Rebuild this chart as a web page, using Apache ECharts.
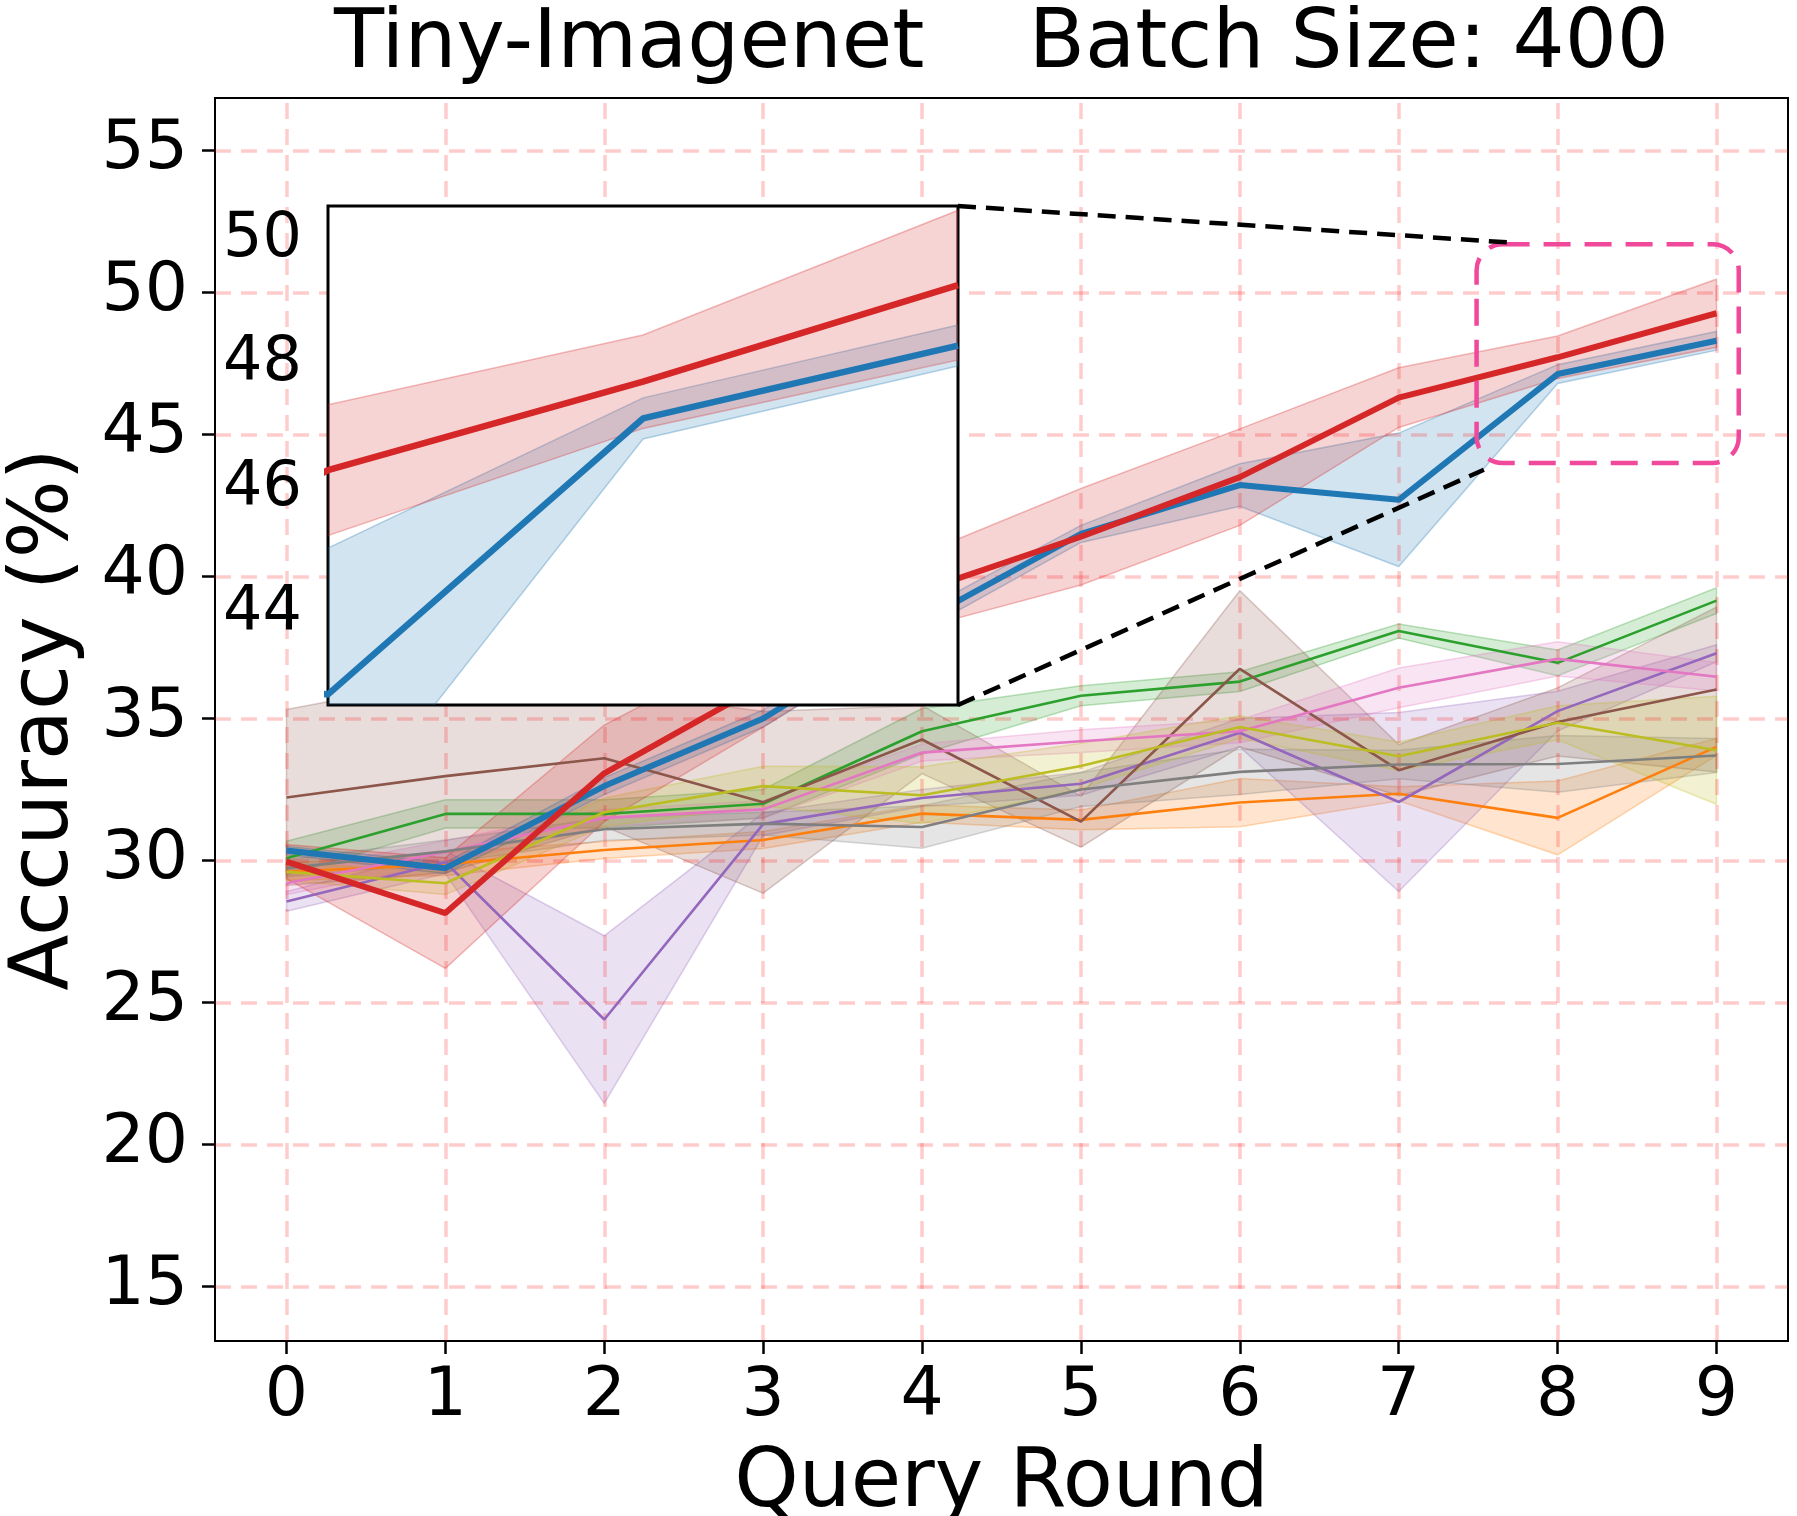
<!DOCTYPE html>
<html>
<head>
<meta charset="utf-8">
<title>Tiny-Imagenet Batch Size 400</title>
<script src="https://cdn.jsdelivr.net/npm/echarts@6/dist/echarts.min.js"></script>
<style>
html, body { margin: 0; padding: 0; background: #fff; }
#chart { width: 1797px; height: 1516px; }
</style>
</head>
<body>
<div id="chart"></div>
<script>
// query rounds and tick labels
var roundIds = [0, 1, 2, 3, 4, 5, 6, 7, 8, 9];
var xTickValues = [0, 1, 2, 3, 4, 5, 6, 7, 8, 9];
var yTickValues = [15, 20, 25, 30, 35, 40, 45, 50, 55];
var insetTickValues = [44, 46, 48, 50];

// axis ranges (main plot and zoomed inset)
var xRange = [-0.45, 9.45];
var yRange = [13.08, 56.85];
var insetXRange = [7, 9];
var insetYRange = [42.53, 50.54];

// zoom box and connector end points, in data units of the main plot
var zoomBox = [7.49, 51.7, 9.14, 44.0];
var connectTop = [7.70, 51.76];
var connectBottom = [7.536, 43.76];

// mean accuracy and spread per method
var redMean = [29.96, 28.15, 33.07, 36.2, 39.5, 41.4, 43.5, 46.3, 47.72, 49.27];
var redStd = [0.6, 1.95, 1.7, 1.5, 1.3, 1.7, 1.7, 1.05, 0.75, 1.2];
var blueMean = [30.35, 29.73, 32.62, 35.0, 38.45, 41.5, 43.22, 42.7, 47.13, 48.3];
var blueStd = [0.15, 0.2, 0.3, 0.3, 0.35, 0.3, 0.75, 2.35, 0.33, 0.33];
var orangeMean = [29.6, 29.87, 30.37, 30.72, 31.65, 31.43, 32.04, 32.35, 31.5, 34.0];
var orangeStd = [0.3, 0.4, 0.3, 0.3, 0.3, 0.35, 0.85, 0.25, 1.3, 0.3];
var greenMean = [30.08, 31.64, 31.64, 32.0, 34.55, 35.8, 36.3, 38.08, 36.96, 39.15];
var greenStd = [0.6, 0.5, 0.5, 0.5, 0.8, 0.35, 0.35, 0.25, 0.45, 0.45];
var purpleMean = [28.56, 29.94, 24.4, 31.28, 32.2, 32.7, 34.5, 32.06, 35.26, 37.3];
var purpleStd = [0.35, 0.4, 2.95, 0.4, 0.3, 0.4, 0.5, 3.15, 0.7, 0.3];
var brownMean = [32.22, 32.97, 33.6, 32.05, 34.26, 31.37, 36.75, 33.18, 34.88, 36.02];
var brownStd = [3.1, 3.4, 2.4, 3.2, 1.2, 0.9, 2.75, 0.9, 1.2, 2.9];
var pinkMean = [29.2, 30.3, 31.5, 31.8, 33.8, 34.2, 34.55, 36.08, 37.1, 36.47];
var pinkStd = [0.4, 0.4, 0.3, 0.3, 0.3, 0.4, 0.4, 0.7, 0.6, 0.5];
var grayMean = [29.73, 30.32, 31.1, 31.3, 31.18, 32.5, 33.12, 33.38, 33.4, 33.7];
var grayStd = [0.3, 0.4, 0.4, 0.4, 0.75, 0.6, 0.8, 0.5, 1.0, 0.6];
var oliveMean = [29.6, 29.2, 31.7, 32.62, 32.3, 33.33, 34.7, 33.67, 34.85, 33.88];
var oliveStd = [0.3, 0.4, 0.5, 0.7, 1.0, 0.8, 0.4, 0.5, 0.6, 1.9];

var chartApp = {
    chart: null,
    font: 'DejaVu Sans',
    thinLines: [
        [orangeMean, orangeStd, '#ff7f0e'],
        [greenMean, greenStd, '#2ca02c'],
        [purpleMean, purpleStd, '#9467bd'],
        [brownMean, brownStd, '#8c564b'],
        [pinkMean, pinkStd, '#e377c2'],
        [grayMean, grayStd, '#7f7f7f'],
        [oliveMean, oliveStd, '#bcbd22']
    ],
    thickLines: [
        [blueMean, blueStd, '#1f77b4'],
        [redMean, redStd, '#d62728']
    ],
    init: function () {
        this.chart = echarts.init(document.getElementById('chart'));
        this.chart.setOption(this.buildOption());
        this.addAnnotations();
    },
    fade: function (hex, a) {
        var n = parseInt(hex.slice(1), 16);
        return 'rgba(' + (n >> 16) + ',' + ((n >> 8) & 255) + ',' + (n & 255) + ',' + a + ')';
    },
    bandSeries: function (mean, std, color, axisIndex, z) {
        var self = this;
        return {
            type: 'custom',
            xAxisIndex: axisIndex,
            yAxisIndex: axisIndex,
            z: z,
            clip: true,
            silent: true,
            data: [[roundIds[0], mean[0]]],
            renderItem: function (params, api) {
                var pts = [];
                for (var i = 0; i < roundIds.length; i++) {
                    pts.push(api.coord([roundIds[i], mean[i] + std[i]]));
                }
                for (var j = roundIds.length - 1; j >= 0; j--) {
                    pts.push(api.coord([roundIds[j], mean[j] - std[j]]));
                }
                return {
                    type: 'polygon',
                    shape: { points: pts },
                    style: { fill: self.fade(color, 0.2), stroke: self.fade(color, 0.3), lineWidth: 1.5 }
                };
            }
        };
    },
    lineSeries: function (mean, color, width, axisIndex, z) {
        return {
            type: 'line',
            xAxisIndex: axisIndex,
            yAxisIndex: axisIndex,
            z: z,
            silent: true,
            showSymbol: false,
            symbol: 'none',
            clip: true,
            data: roundIds.map(function (x, i) { return [x, mean[i]]; }),
            lineStyle: { color: color, width: width },
            itemStyle: { color: color }
        };
    },
    buildOption: function () {
        var self = this;
        var series = [];
        var all = this.thinLines.concat(this.thickLines);

        // bands under everything
        all.forEach(function (s) {
            series.push(self.bandSeries(s[0], s[1], s[2], 0, 1));
        });

        // dashed red grid, above the bands and below the lines
        series.push({
            type: 'line',
            data: [],
            xAxisIndex: 0,
            yAxisIndex: 0,
            z: 2,
            silent: true,
            markLine: {
                z: 2,
                silent: true,
                symbol: ['none', 'none'],
                label: { show: false },
                lineStyle: { color: 'rgba(255,0,0,0.2)', width: 3.5, type: [16, 10] },
                data: xTickValues.map(function (v) { return { xAxis: v }; })
                    .concat(yTickValues.map(function (v) { return { yAxis: v }; }))
            }
        });

        this.thinLines.forEach(function (s) {
            series.push(self.lineSeries(s[0], s[2], 2.6, 0, 3));
        });
        this.thickLines.forEach(function (s, k) {
            series.push(self.lineSeries(s[0], s[2], 6, 0, 4 + k));
        });

        // inset
        this.thickLines.forEach(function (s) {
            series.push(self.bandSeries(s[0], s[1], s[2], 1, 21));
        });
        this.thickLines.forEach(function (s, k) {
            series.push(self.lineSeries(s[0], s[2], 6.5, 1, 22 + k));
        });

        var tickFont = { fontSize: 68, color: '#000', fontFamily: this.font };
        return {
            animation: false,
            backgroundColor: '#fff',
            grid: [
                { left: 215, top: 98, width: 1573, height: 1243, z: 0, show: true,
                  borderColor: '#000', borderWidth: 2, outerBoundsMode: 'none', containLabel: false },
                { left: 328, top: 206, width: 630, height: 499, z: 20, show: true,
                  backgroundColor: '#fff', borderColor: '#000', borderWidth: 3,
                  outerBoundsMode: 'none', containLabel: false }
            ],
            xAxis: [
                {
                    type: 'value', gridIndex: 0, min: xRange[0], max: xRange[1], position: 'bottom',
                    axisLine: { show: false, onZero: false },
                    axisTick: { show: true, length: 13, customValues: xTickValues,
                        lineStyle: { color: '#000', width: 2.5 } },
                    axisLabel: Object.assign({ customValues: xTickValues, margin: 22,
                        formatter: function (v) { return String(v); } }, tickFont),
                    splitLine: { show: false },
                    name: 'Query Round', nameLocation: 'middle', nameGap: 103,
                    nameTextStyle: { fontSize: 82, color: '#000', fontFamily: this.font }
                },
                {
                    type: 'value', gridIndex: 1, min: insetXRange[0], max: insetXRange[1],
                    show: false
                }
            ],
            yAxis: [
                {
                    type: 'value', gridIndex: 0, min: yRange[0], max: yRange[1], position: 'left',
                    axisLine: { show: false, onZero: false },
                    axisTick: { show: true, length: 13, customValues: yTickValues,
                        lineStyle: { color: '#000', width: 2.5 } },
                    axisLabel: Object.assign({ customValues: yTickValues, margin: 27,
                        formatter: function (v) { return String(v); } }, tickFont),
                    splitLine: { show: false },
                    name: 'Accuracy (%)', nameLocation: 'middle', nameGap: 128,
                    nameTextStyle: { fontSize: 82, color: '#000', fontFamily: this.font }
                },
                {
                    type: 'value', gridIndex: 1, min: insetYRange[0], max: insetYRange[1], z: 24,
                    axisLine: { show: false, onZero: false },
                    axisTick: { show: false },
                    axisLabel: { customValues: insetTickValues, margin: 26, fontSize: 62,
                        color: '#000', fontFamily: this.font,
                        formatter: function (v) { return String(v); } },
                    splitLine: { show: false }
                }
            ],
            series: series
        };
    },
    addAnnotations: function () {
        var c = this.chart;
        var p = function (pt) { return c.convertToPixel({ gridIndex: 0 }, pt); };
        var q = function (pt) { return c.convertToPixel({ gridIndex: 1 }, pt); };
        var boxA = p([zoomBox[0], zoomBox[1]]);
        var boxB = p([zoomBox[2], zoomBox[3]]);
        var insTop = q([insetXRange[1], insetYRange[1]]);
        var insBottom = q([insetXRange[1], insetYRange[0]]);
        var endTop = p(connectTop);
        var endBottom = p(connectBottom);
        var frameL = p([xRange[0], yRange[1]]);
        var frameR = p([xRange[1], yRange[1]]);
        var dash = { stroke: '#000', lineWidth: 4.5, lineDash: [18, 10], fill: null };

        c.setOption({
            graphic: [
                {
                    type: 'text', x: (frameL[0] + frameR[0]) / 2, y: 5, z: 40,
                    style: { text: 'Tiny-Imagenet    Batch Size: 400', fill: '#000',
                        fontSize: 82, fontFamily: this.font, align: 'center', verticalAlign: 'top' }
                },
                {
                    type: 'rect', z: 30, silent: true,
                    shape: { x: boxA[0], y: boxA[1], width: boxB[0] - boxA[0], height: boxB[1] - boxA[1], r: 26 },
                    style: { fill: null, stroke: '#f0489a', lineWidth: 4.5, lineDash: [27, 14] }
                },
                {
                    type: 'line', z: 30, silent: true,
                    shape: { x1: insTop[0], y1: insTop[1], x2: endTop[0], y2: endTop[1] },
                    style: dash
                },
                {
                    type: 'line', z: 30, silent: true,
                    shape: { x1: insBottom[0], y1: insBottom[1], x2: endBottom[0], y2: endBottom[1] },
                    style: dash
                }
            ]
        });
    }
};

chartApp.init();
</script>
</body>
</html>
